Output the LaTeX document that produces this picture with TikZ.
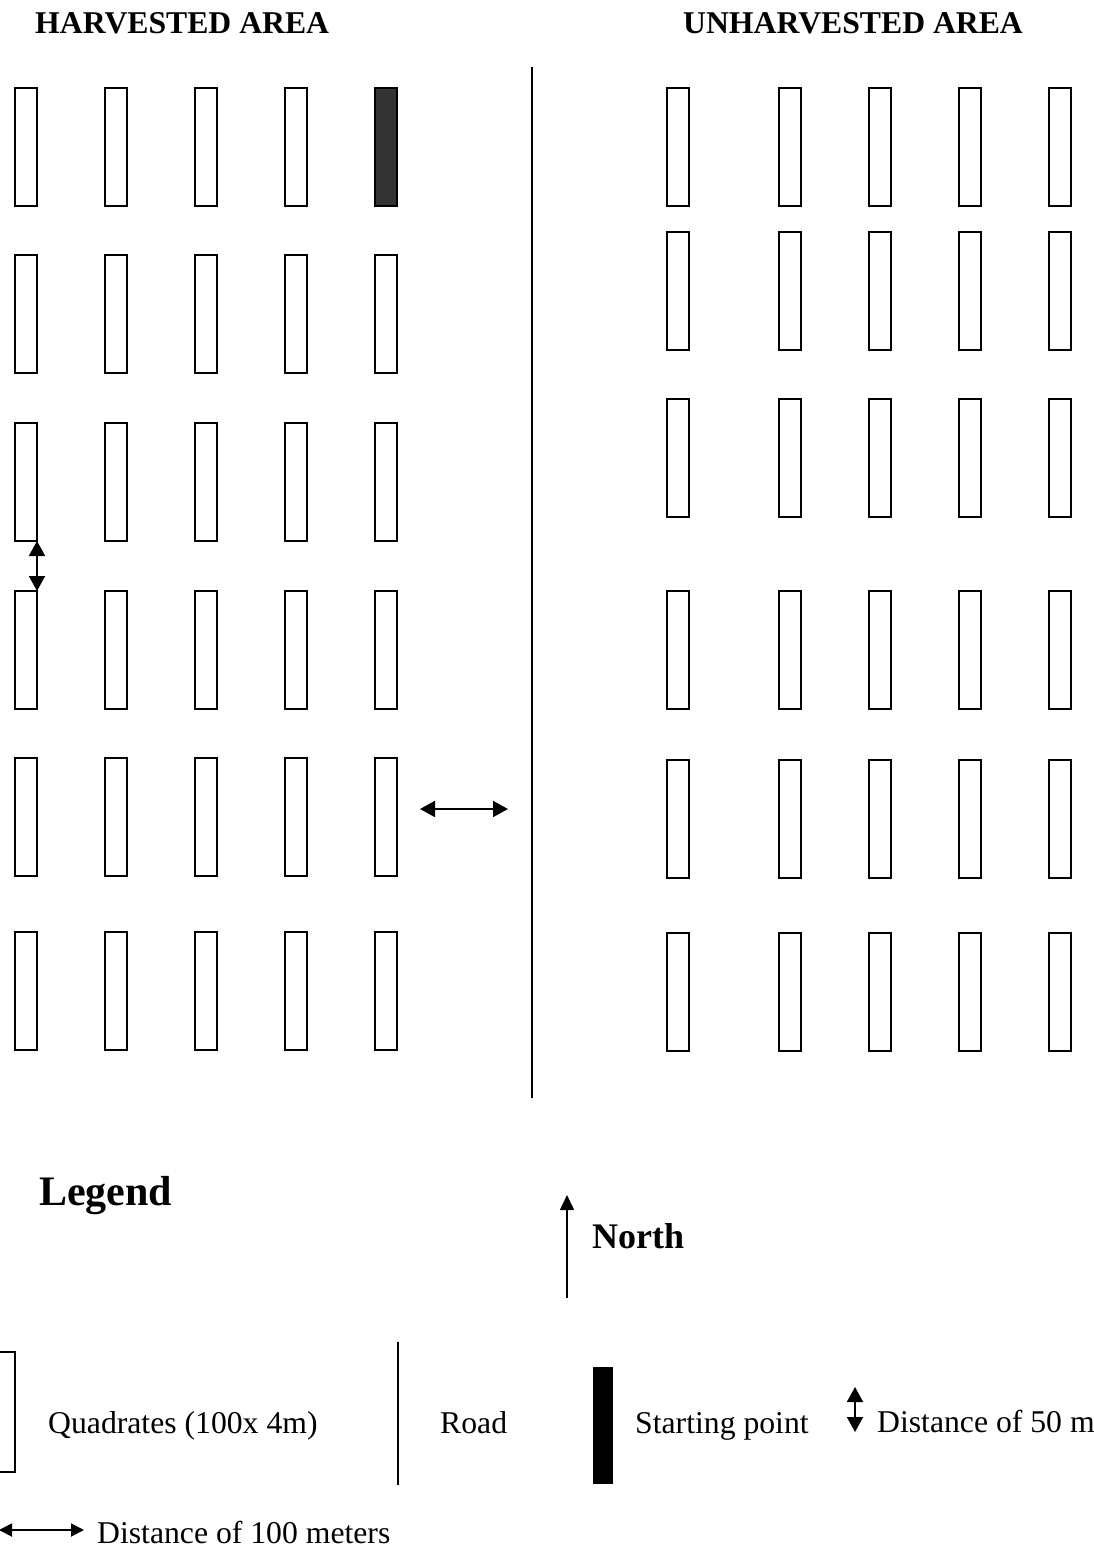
\documentclass[tikz,border=0pt]{standalone}
\usepackage{fontspec}
\setmainfont{Liberation Serif}
\usetikzlibrary{arrows.meta}
\begin{document}
\begin{tikzpicture}[x=1pt,y=-1pt,
  quad/.style={draw=black,line width=2pt,minimum width=22pt,minimum height=118pt,inner sep=0pt,outer sep=0pt,anchor=north west},
  lbl/.style={inner sep=0pt,anchor=base west,font=\fontsize{31.7}{38}\selectfont},
  headtxt/.style={inner sep=0pt,anchor=base west,font=\bfseries\fontsize{31.7}{38}\selectfont},
  dimarrow/.style={line width=1.8pt,{Triangle[length=15pt,width=16pt]}-{Triangle[length=15pt,width=16pt]}},
  smallarrow/.style={line width=1.8pt,{Triangle[length=13pt,width=13pt]}-{Triangle[length=13pt,width=13pt]}},
  roadline/.style={line width=1.8pt}]
\useasboundingbox (0,0) rectangle (1094,1549);
% headings
\node[headtxt] (hh) at (35,34) {HARVESTED AREA};
\node[headtxt] (hu) at (683,34) {UNHARVESTED AREA};
% harvested area quadrats
\node[quad] (L11) at (15,88) {};
\node[quad] (L12) at (105,88) {};
\node[quad] (L13) at (195,88) {};
\node[quad] (L14) at (285,88) {};
\node[quad,fill=black!80] (L15) at (375,88) {};
\foreach \r/\y in {2/255,3/423,4/591,5/758,6/932} {
  \foreach \c/\x in {1/15,2/105,3/195,4/285,5/375} {
    \node[quad] (L\r\c) at (\x,\y) {};
  }
}
% unharvested area quadrats
\foreach \r/\y in {1/88,2/232,3/399,4/591,5/760,6/933} {
  \foreach \c/\x in {1/667,2/779,3/869,4/959,5/1049} {
    \node[quad] (U\r\c) at (\x,\y) {};
  }
}
% road
\coordinate (roadtop) at (532,67);
\coordinate (roadbot) at (532,1098);
\draw[roadline] (roadtop) -- (roadbot);
% distance arrows
\draw[dimarrow] (L31.south east) -- (L41.north east);
\coordinate (ha) at (420,809);
\coordinate (hb) at (508,809);
\draw[dimarrow] (ha) -- (hb);
% legend
\node[inner sep=0pt,anchor=base west,font=\bfseries\fontsize{42}{50}\selectfont] (legend) at (39,1205) {Legend};
\coordinate (ntail) at (567,1298);
\coordinate (ntip) at (567,1195);
\draw[line width=1.6pt,-{Triangle[length=15pt,width=14pt]}] (ntail) -- (ntip);
\node[inner sep=0pt,anchor=base west,font=\bfseries\fontsize{36}{43}\selectfont] (north) at (592,1248) {North};
\node[draw=black,line width=2pt,minimum width=30pt,minimum height=120pt,inner sep=0pt,outer sep=0pt,anchor=north east] (lq) at (15,1352) {};
\node[lbl] (tq) at (48,1433) {Quadrates (100x 4m)};
\coordinate (lrt) at (398,1342);
\coordinate (lrb) at (398,1485);
\draw[roadline] (lrt) -- (lrb);
\node[lbl] (tr) at (440,1433) {Road};
\node[fill=black,minimum width=20pt,minimum height=117pt,inner sep=0pt,outer sep=0pt,anchor=north west] (ls) at (593,1367) {};
\node[lbl] (ts) at (635,1433) {Starting point};
\coordinate (d50b) at (855,1432);
\coordinate (d50t) at (855,1387);
\draw[dimarrow] (d50b) -- (d50t);
\node[lbl] (t50) at (877,1432) {Distance of 50 m};
\coordinate (d100a) at (-1,1530);
\coordinate (d100b) at (84,1530);
\draw[smallarrow] (d100a) -- (d100b);
\node[lbl] (t100) at (97,1543) {Distance of 100 meters};
\end{tikzpicture}
\end{document}
